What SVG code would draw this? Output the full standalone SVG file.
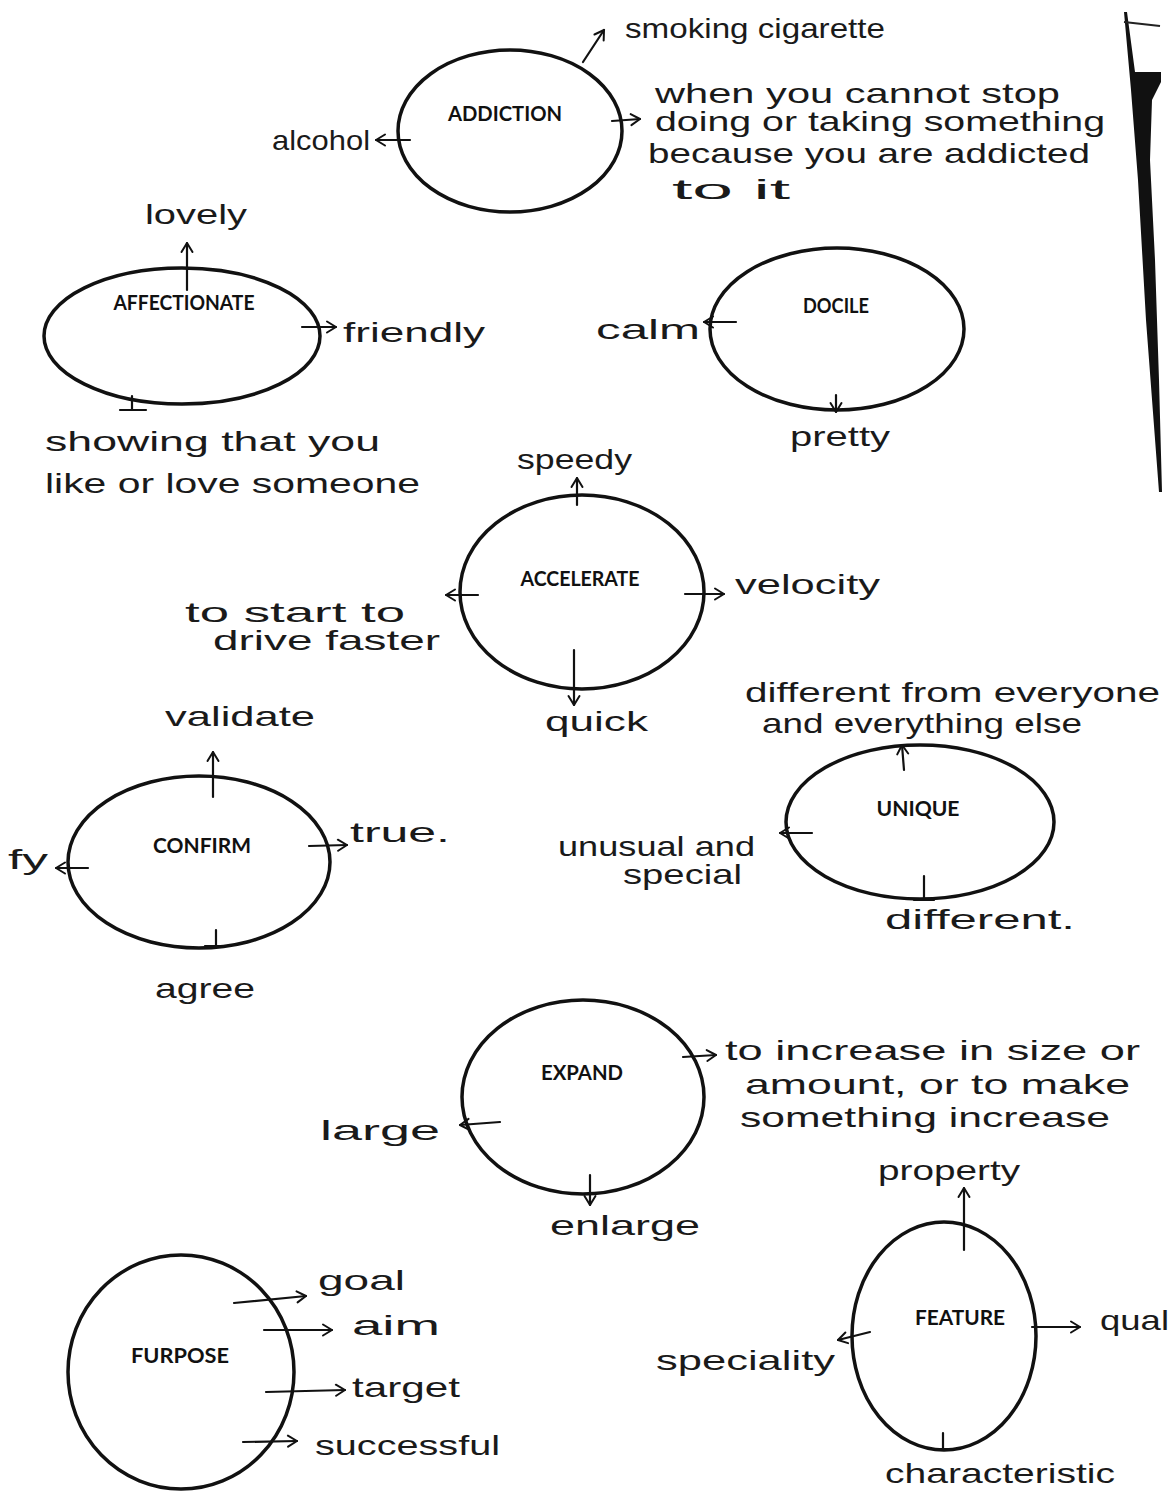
<svg xmlns="http://www.w3.org/2000/svg" width="1169" height="1491" viewBox="0 0 1169 1491">
  <defs>
    <marker id="head" viewBox="0 0 14 14" refX="12" refY="7" markerWidth="14" markerHeight="14" markerUnits="userSpaceOnUse" orient="auto">
      <path d="M3,1.5 L12,7 L3,12.5" fill="none" stroke="#111" stroke-width="2" stroke-linecap="round" stroke-linejoin="round"/>
    </marker>
    <style>
      .node ellipse { fill: none; stroke: #111; stroke-width: 3.5; }
      .title { font-family: Lato, "Open Sans", "Liberation Sans", sans-serif; font-weight: 700; font-size: 20px; fill: #111; text-anchor: middle; }
      .hand { font-family: "Liberation Sans", "DejaVu Sans", sans-serif; font-size: 28px; fill: #1a1a1a; }
      .conn path { fill: none; stroke: #111; stroke-width: 2.2; stroke-linecap: round; }
      .conn .arrow { marker-end: url(#head); }
    </style>
  </defs>

  <rect width="1169" height="1491" fill="#fff"/>

  <!-- page edge shadow on the right -->
  <g id="page-edge">
    <polygon points="1124,12 1127,12 1135,72 1161,72 1161,82 1152,100 1150,160 1155,260 1159,380 1162,492 1159,492 1146,320 1138,180 1131,90" fill="#111"/>
    <path d="M1124,22 L1160,26" stroke="#222" stroke-width="2" fill="none"/>
  </g>

  <!-- nodes -->
  <g id="addiction" class="node">
    <ellipse cx="510" cy="131" rx="112" ry="81"/>
    <text class="title" x="505" y="121" textLength="114" lengthAdjust="spacingAndGlyphs">ADDICTION</text>
    <text class="hand" x="625" y="38" textLength="260" lengthAdjust="spacingAndGlyphs" font-size="25">smoking cigarette</text>
    <text class="hand" x="655" y="103" textLength="405" lengthAdjust="spacingAndGlyphs" font-size="25">when you cannot stop</text>
    <text class="hand" x="655" y="131" textLength="450" lengthAdjust="spacingAndGlyphs" font-size="25">doing or taking something</text>
    <text class="hand" x="648" y="163" textLength="442" lengthAdjust="spacingAndGlyphs" font-size="25">because you are addicted</text>
    <text class="hand" x="672" y="199" textLength="118" lengthAdjust="spacingAndGlyphs" font-size="27">to it</text>
    <text class="hand" x="272" y="150" textLength="98" lengthAdjust="spacingAndGlyphs" font-size="25">alcohol</text>
  </g>

  <g id="affectionate" class="node">
    <ellipse cx="182" cy="336" rx="138" ry="68"/>
    <text class="title" x="184" y="310" textLength="141" lengthAdjust="spacingAndGlyphs">AFFECTIONATE</text>
    <text class="hand" x="145" y="224" textLength="102" lengthAdjust="spacingAndGlyphs" font-size="32">lovely</text>
    <text class="hand" x="343" y="342" textLength="142" lengthAdjust="spacingAndGlyphs" font-size="36">friendly</text>
    <text class="hand" x="45" y="451" textLength="335" lengthAdjust="spacingAndGlyphs" font-size="30">showing that you</text>
    <text class="hand" x="45" y="493" textLength="375" lengthAdjust="spacingAndGlyphs" font-size="30">like or love someone</text>
  </g>

  <g id="docile" class="node">
    <ellipse cx="837" cy="329" rx="127" ry="81"/>
    <text class="title" x="836" y="313" textLength="66" lengthAdjust="spacingAndGlyphs">DOCILE</text>
    <text class="hand" x="596" y="339" textLength="104" lengthAdjust="spacingAndGlyphs" font-size="32">calm</text>
    <text class="hand" x="790" y="446" textLength="100" lengthAdjust="spacingAndGlyphs" font-size="32">pretty</text>
  </g>

  <g id="accelerate" class="node">
    <ellipse cx="582" cy="592" rx="122" ry="97"/>
    <text class="title" x="580" y="586" textLength="119" lengthAdjust="spacingAndGlyphs">ACCELERATE</text>
    <text class="hand" x="517" y="469" textLength="115" lengthAdjust="spacingAndGlyphs" font-size="30">speedy</text>
    <text class="hand" x="735" y="594" textLength="145" lengthAdjust="spacingAndGlyphs" font-size="32">velocity</text>
    <text class="hand" x="185" y="622" textLength="220" lengthAdjust="spacingAndGlyphs" font-size="28">to start to</text>
    <text class="hand" x="213" y="650" textLength="227" lengthAdjust="spacingAndGlyphs" font-size="28">drive faster</text>
    <text class="hand" x="545" y="731" textLength="103" lengthAdjust="spacingAndGlyphs" font-size="32">quick</text>
  </g>

  <g id="confirm" class="node">
    <ellipse cx="199" cy="862" rx="131" ry="86"/>
    <text class="title" x="202" y="853" textLength="98" lengthAdjust="spacingAndGlyphs">CONFIRM</text>
    <text class="hand" x="165" y="726" textLength="150" lengthAdjust="spacingAndGlyphs" font-size="30">validate</text>
    <text class="hand" x="350" y="842" textLength="100" lengthAdjust="spacingAndGlyphs" font-size="30">true.</text>
    <text class="hand" x="8" y="869" textLength="40" lengthAdjust="spacingAndGlyphs" font-size="32">fy</text>
    <text class="hand" x="155" y="998" textLength="100" lengthAdjust="spacingAndGlyphs" font-size="32">agree</text>
  </g>

  <g id="unique" class="node">
    <ellipse cx="920" cy="822" rx="134" ry="77"/>
    <text class="title" x="918" y="816" textLength="83" lengthAdjust="spacingAndGlyphs">UNIQUE</text>
    <text class="hand" x="745" y="702" textLength="415" lengthAdjust="spacingAndGlyphs" font-size="28">different from everyone</text>
    <text class="hand" x="762" y="733" textLength="320" lengthAdjust="spacingAndGlyphs" font-size="26">and everything else</text>
    <text class="hand" x="558" y="856" textLength="197" lengthAdjust="spacingAndGlyphs" font-size="26">unusual and</text>
    <text class="hand" x="623" y="884" textLength="119" lengthAdjust="spacingAndGlyphs" font-size="26">special</text>
    <text class="hand" x="885" y="929" textLength="190" lengthAdjust="spacingAndGlyphs" font-size="34">different.</text>
  </g>

  <g id="expand" class="node">
    <ellipse cx="583" cy="1097" rx="121" ry="97"/>
    <text class="title" x="582" y="1080" textLength="82" lengthAdjust="spacingAndGlyphs">EXPAND</text>
    <text class="hand" x="725" y="1060" textLength="415" lengthAdjust="spacingAndGlyphs" font-size="28">to increase in size or</text>
    <text class="hand" x="745" y="1094" textLength="385" lengthAdjust="spacingAndGlyphs" font-size="28">amount, or to make</text>
    <text class="hand" x="740" y="1127" textLength="370" lengthAdjust="spacingAndGlyphs" font-size="28">something increase</text>
    <text class="hand" x="320" y="1140" textLength="120" lengthAdjust="spacingAndGlyphs" font-size="34">large</text>
    <text class="hand" x="550" y="1235" textLength="150" lengthAdjust="spacingAndGlyphs" font-size="34">enlarge</text>
  </g>

  <g id="purpose" class="node">
    <ellipse cx="181" cy="1372" rx="113" ry="117"/>
    <text class="title" x="180" y="1363" textLength="98" lengthAdjust="spacingAndGlyphs">FURPOSE</text>
    <text class="hand" x="318" y="1290" textLength="87" lengthAdjust="spacingAndGlyphs" font-size="34">goal</text>
    <text class="hand" x="352" y="1335" textLength="88" lengthAdjust="spacingAndGlyphs" font-size="32">aim</text>
    <text class="hand" x="352" y="1397" textLength="108" lengthAdjust="spacingAndGlyphs" font-size="32">target</text>
    <text class="hand" x="315" y="1455" textLength="185" lengthAdjust="spacingAndGlyphs" font-size="34">successful</text>
  </g>

  <g id="feature" class="node">
    <ellipse cx="944" cy="1336" rx="92" ry="114"/>
    <text class="title" x="960" y="1325" textLength="90" lengthAdjust="spacingAndGlyphs">FEATURE</text>
    <text class="hand" x="878" y="1180" textLength="142" lengthAdjust="spacingAndGlyphs" font-size="32">property</text>
    <text class="hand" x="1100" y="1330" textLength="69" lengthAdjust="spacingAndGlyphs" font-size="30">qual</text>
    <text class="hand" x="656" y="1370" textLength="179" lengthAdjust="spacingAndGlyphs" font-size="32">speciality</text>
    <text class="hand" x="885" y="1483" textLength="230" lengthAdjust="spacingAndGlyphs" font-size="32">characteristic</text>
  </g>

  <!-- connectors, drawn across the outlines -->
  <g id="connectors" class="conn">
    <!-- ADDICTION -->
    <path class="arrow" d="M583,62 L604,30"/>
    <path class="arrow" d="M612,121 L640,119"/>
    <path class="arrow" d="M410,140 L376,140"/>
    <!-- AFFECTIONATE -->
    <path class="arrow" d="M187,290 L187,243"/>
    <path class="arrow" d="M302,327 L336,327"/>
    <path d="M132,396 L132,410 M120,410 L146,410"/>
    <!-- DOCILE -->
    <path class="arrow" d="M736,322 L704,322"/>
    <path class="arrow" d="M836,395 L836,412"/>
    <!-- ACCELERATE -->
    <path class="arrow" d="M577,505 L577,478"/>
    <path class="arrow" d="M685,594 L724,594"/>
    <path class="arrow" d="M478,595 L446,595"/>
    <path class="arrow" d="M574,650 L574,705"/>
    <!-- CONFIRM -->
    <path class="arrow" d="M213,797 L213,752"/>
    <path class="arrow" d="M309,846 L347,845"/>
    <path class="arrow" d="M88,868 L56,868"/>
    <path d="M216,930 L216,946 M205,946 L226,946"/>
    <!-- UNIQUE -->
    <path class="arrow" d="M904,770 L902,745"/>
    <path class="arrow" d="M812,833 L780,833"/>
    <path d="M924,876 L924,900 M914,900 L934,900"/>
    <!-- EXPAND -->
    <path class="arrow" d="M683,1057 L716,1055"/>
    <path class="arrow" d="M500,1122 L460,1125"/>
    <path class="arrow" d="M590,1175 L590,1205"/>
    <!-- PURPOSE -->
    <path class="arrow" d="M234,1303 L306,1296"/>
    <path class="arrow" d="M264,1330 L332,1330"/>
    <path class="arrow" d="M266,1392 L345,1390"/>
    <path class="arrow" d="M243,1442 L297,1441"/>
    <!-- FEATURE -->
    <path class="arrow" d="M964,1250 L964,1188"/>
    <path class="arrow" d="M1032,1327 L1080,1327"/>
    <path class="arrow" d="M870,1332 L838,1340"/>
    <path d="M943,1433 L943,1449 M932,1449 L952,1449"/>
  </g>
</svg>
